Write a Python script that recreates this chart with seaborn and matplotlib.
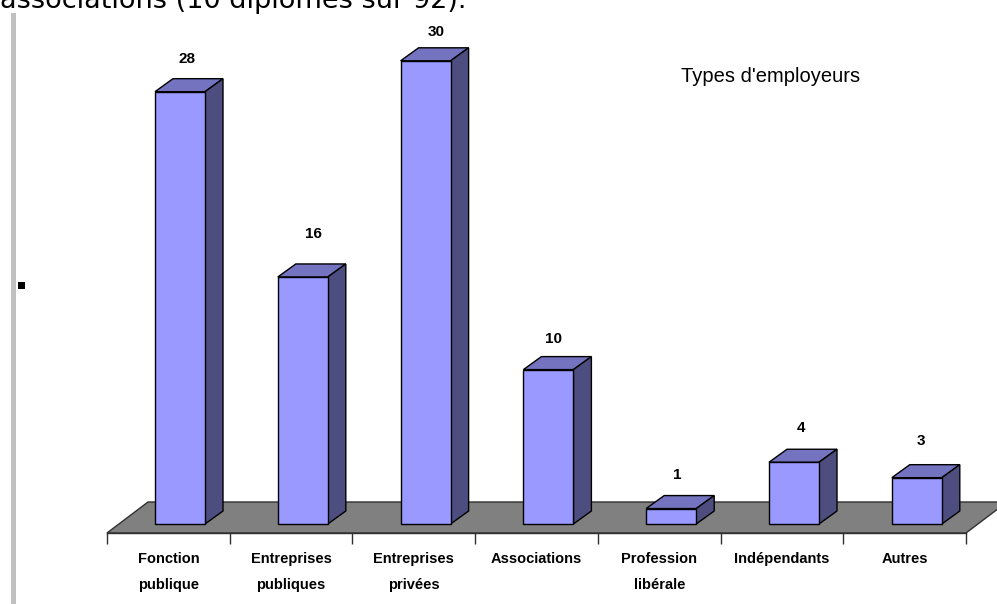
import matplotlib
matplotlib.use("Agg")
import matplotlib.pyplot as plt
from matplotlib.patches import Polygon, Rectangle
import pandas as pd
import seaborn as sns

categories = ["Fonction\npublique", "Entreprises\npubliques", "Entreprises\nprivées",
              "Associations", "Profession\nlibérale", "Indépendants", "Autres"]
values = [28, 16, 30, 10, 1, 4, 3]
title = "Types d'employeurs"
header = "associations (10 diplômés sur 92)."

W, H = 997, 604
PX_X = 122.8      # pixels per category
PX_Y = 15.44      # pixels per unit
X0, Y0 = 180, 524 # pixel of first bar centre / zero line

front = "#9999FF"
top = "#7373BF"
side = "#4D4D80"
floor = "#808080"

# small nudges of the value labels, in pixels
label_dx = [7, 10.5, 10.5, 5, 6.5, 7, 4]
label_dy = [33, 43, 29, 31, 34, 34, 37]

sns.set_style("white")
plt.rcParams["font.family"] = ["Liberation Sans", "DejaVu Sans"]

df = pd.DataFrame({"categorie": categories, "n": values})

fig = plt.figure(figsize=(W / 100, H / 100), dpi=100)
ax = fig.add_axes([0, 0, 1, 1])
sns.barplot(data=df, x="categorie", y="n", color=front, saturation=1, width=50 / PX_X,
            edgecolor="black", linewidth=1, ax=ax, zorder=3)

ax.set_xlim(-X0 / PX_X, (W - X0) / PX_X)
ax.set_ylim(-(H - Y0) / PX_Y, Y0 / PX_Y)
ax.set_xlabel("")
ax.set_ylabel("")
ax.set_yticks([])

dx = 18 / PX_X
dy = 13 / PX_Y

# floor of the 3d chart
left = (107 - X0) / PX_X
right = (966 - X0) / PX_X
front_y = -9 / PX_Y
back_y = 22 / PX_Y
shift = 41 / PX_X
ax.add_patch(Polygon([(left, front_y), (right, front_y), (right + shift, back_y), (left + shift, back_y)],
                     closed=True, facecolor=floor, edgecolor="#303030", linewidth=1, zorder=1))

# top and side faces of each bar
for i, bar in enumerate(ax.patches[:len(values)]):
    x0 = bar.get_x()
    x1 = x0 + bar.get_width()
    h = bar.get_height()
    ax.add_patch(Polygon([(x0, h), (x1, h), (x1 + dx, h + dy), (x0 + dx, h + dy)],
                         closed=True, facecolor=top, edgecolor="black", linewidth=1, zorder=2))
    ax.add_patch(Polygon([(x1, 0), (x1 + dx, dy), (x1 + dx, h + dy), (x1, h)],
                         closed=True, facecolor=side, edgecolor="black", linewidth=1, zorder=2))
    ax.text(i + label_dx[i] / PX_X, h + label_dy[i] / PX_Y, str(values[i]), ha="center", va="center",
            fontsize=11, fontweight="bold", color="black")

# axis line with ticks between the categories
for s in ["top", "left", "right"]:
    ax.spines[s].set_visible(False)
ax.spines["bottom"].set_position(("data", front_y))
ax.spines["bottom"].set_bounds(left, right)
ax.spines["bottom"].set_color("#303030")
ax.spines["bottom"].set_linewidth(1)

centres = [left + (right - left) * (i + 0.5) / len(values) for i in range(len(values))]
edges = [left + (right - left) * i / len(values) for i in range(len(values) + 1)]
ax.set_xticks(centres)
ax.set_xticklabels(categories, fontsize=10.5, fontweight="bold", linespacing=2.05, va="top", color="black")
ax.set_xticks(edges, minor=True)
ax.tick_params(axis="x", which="major", length=0, pad=14, bottom=True)
ax.tick_params(axis="x", which="minor", length=8, width=1, color="#303030", bottom=True)

ax.text((771 - X0) / PX_X, (Y0 - 76.5) / PX_Y, title, ha="center", va="center", fontsize=14.5, color="black")

# page elements around the chart
ax.add_patch(Rectangle(((11 - X0) / PX_X, -(H - Y0) / PX_Y), 5 / PX_X, (H - 13) / PX_Y,
                       facecolor="#C0C0C0", edgecolor="none"))
ax.add_patch(Rectangle(((18 - X0) / PX_X, (Y0 - 289) / PX_Y), 7 / PX_X, 7 / PX_Y,
                       facecolor="black", edgecolor="none"))
ax.text(-X0 / PX_X, (Y0 - 8) / PX_Y, header, ha="left", va="baseline", fontsize=19.5,
        color="black", family="DejaVu Sans")

fig.savefig("out.png", dpi=100)
